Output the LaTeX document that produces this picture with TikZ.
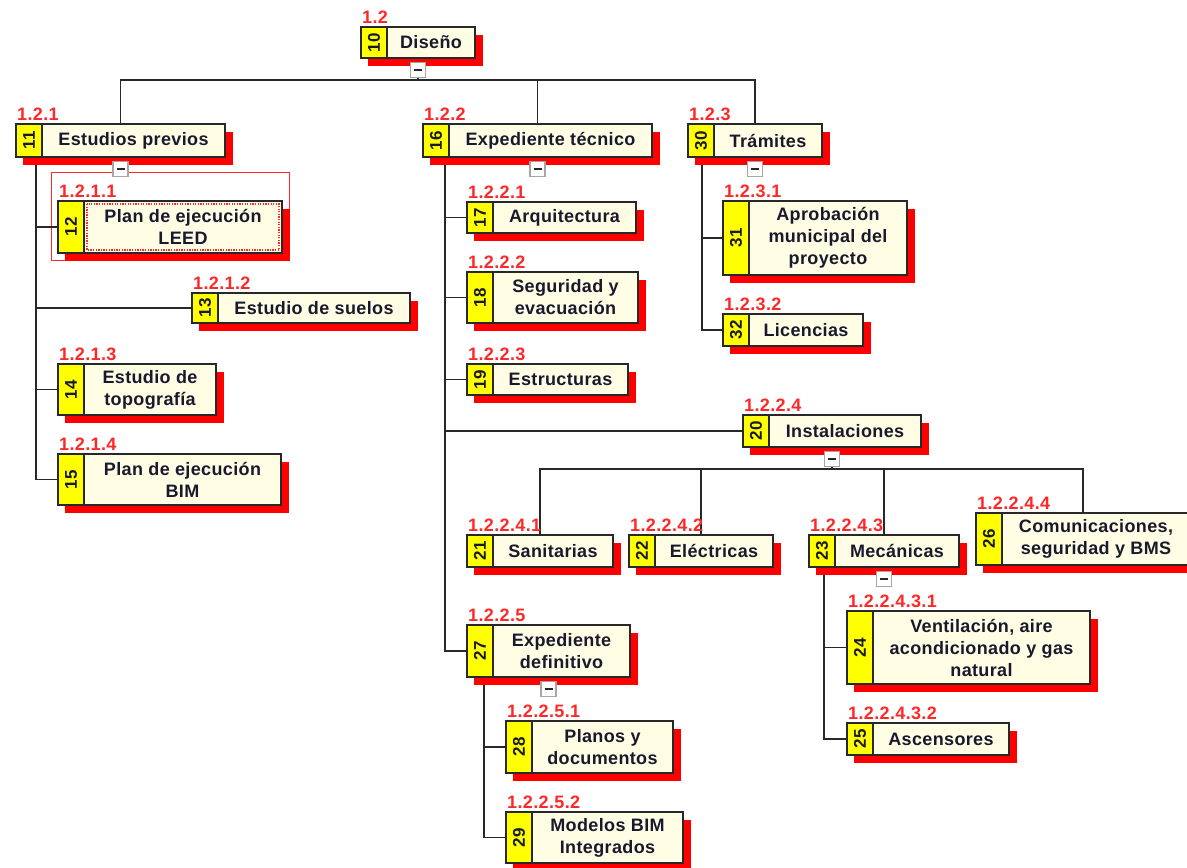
\documentclass[tikz,border=0pt]{standalone}
\usepackage{fontspec}
\usepackage{graphicx}
\newfontfamily\wbsfont{Liberation Sans}[LetterSpace=2]
\newfontfamily\wbsnumfont{Liberation Sans}[LetterSpace=2]
\usetikzlibrary{calc}
\definecolor{wbsred}{RGB}{255,0,0}
\definecolor{codered}{RGB}{255,40,40}
\definecolor{wbscream}{RGB}{255,253,228}
\definecolor{wbsyellow}{RGB}{255,255,0}
\definecolor{edgecol}{RGB}{40,40,40}
\definecolor{txtcol}{RGB}{25,25,45}
\pgfdeclarelayer{background}
\pgfsetlayers{background,main}
\tikzset{
  numbox/.style={draw=edgecol, line width=1.4pt, fill=wbsyellow, inner sep=0pt, outer sep=0pt,
    anchor=north west, text=txtcol, font=\wbsnumfont\bfseries\fontsize{17}{17}\selectfont},
  txtbox/.style={draw=edgecol, line width=1.4pt, fill=wbscream, inner sep=0pt, outer sep=0pt,
    anchor=north west, align=center, text=txtcol, font=\wbsfont\bfseries\fontsize{18}{22}\selectfont},
  codelbl/.style={text=codered, inner sep=0pt, anchor=base west,
    font=\wbsfont\bfseries\fontsize{18}{18}\selectfont},
  conn/.style={draw=edgecol, line width=1.4pt},
  minusbox/.style={draw=gray!70, fill=white, minimum size=15pt, inner sep=0pt, line width=1.2pt,
    path picture={\draw[line width=1.8pt, edgecol] ([xshift=-4pt]path picture bounding box.center) -- ([xshift=4pt]path picture bounding box.center);}},
  selrect/.style={draw=codered, line width=1pt},
  shadowbox/.style={fill=wbsred, draw=none}
}
% name, x1, y1, x2, y2, number, text, code
\newcommand\wbsitem[8]{%
  \pgfmathsetmacro\wbsW{#4-#2-26}%
  \pgfmathsetmacro\wbsH{#5-#3}%
  \fill[shadowbox] ({#2+7},{#3+8}) rectangle ({#4+8},{#5+8});
  \node[numbox, minimum width=26pt, minimum height=\wbsH pt] (#1n) at (#2,#3) {\rotatebox{90}{#6}};
  \node[txtbox, minimum width=\wbsW pt, minimum height=\wbsH pt] (#1) at ({#2+26},#3) {#7};
  \node[codelbl] (#1c) at ({#2+1},{#3-4}) {#8};
  \coordinate (#1top) at ({(#2+#4)/2},#3);
  \coordinate (#1bot) at ({(#2+#4)/2},#5);
  \coordinate (#1mb) at ({(#2+#4)/2},{#5+12});
}
\begin{document}
\begin{tikzpicture}[x=1pt,y=-1pt]
\useasboundingbox (0,0) rectangle (1187,868);
\clip (0,0) rectangle (1187,868);

\wbsitem{e10}{361}{27}{475}{58}{10}{Diseño}{1.2}
\wbsitem{e11}{16}{124}{225}{157}{11}{Estudios previos}{1.2.1}
\wbsitem{e12}{58}{201}{282}{253}{12}{Plan de ejecución\\LEED}{1.2.1.1}
\wbsitem{e13}{192}{293}{410}{323}{13}{Estudio de suelos}{1.2.1.2}
\wbsitem{e14}{58}{364}{216}{415}{14}{Estudio de\\topografía}{1.2.1.3}
\wbsitem{e15}{58}{454}{281}{505}{15}{Plan de ejecución\\BIM}{1.2.1.4}
\wbsitem{e16}{423}{124}{652}{157}{16}{Expediente técnico}{1.2.2}
\wbsitem{e17}{467}{202}{636}{233}{17}{Arquitectura}{1.2.2.1}
\wbsitem{e18}{467}{272}{638}{323}{18}{Seguridad y\\evacuación}{1.2.2.2}
\wbsitem{e19}{467}{364}{628}{395}{19}{Estructuras}{1.2.2.3}
\wbsitem{e20}{743}{415}{921}{447}{20}{Instalaciones}{1.2.2.4}
\wbsitem{e21}{467}{535}{613}{567}{21}{Sanitarias}{1.2.2.4.1}
\wbsitem{e22}{629}{535}{773}{567}{22}{Eléctricas}{1.2.2.4.2}
\wbsitem{e23}{809}{535}{959}{567}{23}{Mecánicas}{1.2.2.4.3}
\wbsitem{e24}{847}{611}{1090}{684}{24}{Ventilación, aire\\acondicionado y gas\\natural}{1.2.2.4.3.1}
\wbsitem{e25}{847}{723}{1009}{755}{25}{Ascensores}{1.2.2.4.3.2}
\wbsitem{e26}{976}{513}{1190}{565}{26}{Comunicaciones,\\seguridad y BMS}{1.2.2.4.4}
\wbsitem{e27}{467}{625}{630}{677}{27}{Expediente\\definitivo}{1.2.2.5}
\wbsitem{e28}{506}{721}{673}{773}{28}{Planos y\\documentos}{1.2.2.5.1}
\wbsitem{e29}{506}{812}{683}{863}{29}{Modelos BIM\\Integrados}{1.2.2.5.2}
\wbsitem{e30}{688}{124}{822}{157}{30}{Trámites}{1.2.3}
\wbsitem{e31}{723}{201}{907}{275}{31}{Aprobación\\municipal del\\proyecto}{1.2.3.1}
\wbsitem{e32}{723}{314}{863}{346}{32}{Licencias}{1.2.3.2}

% dotted focus frame inside item 12
\draw[codered, line width=1.3pt, dash pattern=on 1.3pt off 1.3pt] ([shift={(3,3)}]e12.north west) rectangle ([shift={(-3,-3)}]e12.south east);

% bus levels and hanging lines
\coordinate (bus1) at (0,80);
\coordinate (bus2) at (0,469);
\coordinate (h11) at (36,157);
\coordinate (h16) at (445,157);
\coordinate (h30) at (702,157);
\coordinate (h23) at (824,567);
\coordinate (h27) at (484,677);

\begin{pgfonlayer}{background}
  \draw[selrect] (51,172) rectangle (289,260);
  % level 1
  \draw[conn] (e10bot) -- (e10bot |- bus1);
  \draw[conn] (e11top) -- (e11top |- bus1) -- (e30top |- bus1) -- (e30top);
  \draw[conn] (e16top) -- (e16top |- bus1);
  % Estudios previos
  \draw[conn] (h11) |- (e15n.west);
  \draw[conn] (h11 |- e12n.west) -- (e12n.west);
  \draw[conn] (h11 |- e13n.west) -- (e13n.west);
  \draw[conn] (h11 |- e14n.west) -- (e14n.west);
  % Expediente tecnico
  \draw[conn] (h16) |- (e27n.west);
  \draw[conn] (h16 |- e17n.west) -- (e17n.west);
  \draw[conn] (h16 |- e18n.west) -- (e18n.west);
  \draw[conn] (h16 |- e19n.west) -- (e19n.west);
  \draw[conn] (h16 |- e20n.west) -- (e20n.west);
  % Tramites
  \draw[conn] (h30) |- (e32n.west);
  \draw[conn] (h30 |- e31n.west) -- (e31n.west);
  % Instalaciones
  \draw[conn] (e20bot) -- (e20bot |- bus2);
  \draw[conn] (e21top) -- (e21top |- bus2) -- (e26top |- bus2) -- (e26top);
  \draw[conn] (e22top) -- (e22top |- bus2);
  \draw[conn] (e23top) -- (e23top |- bus2);
  % Mecanicas
  \draw[conn] (h23) |- (e25n.west);
  \draw[conn] (h23 |- e24n.west) -- (e24n.west);
  % Expediente definitivo
  \draw[conn] (h27) |- (e29n.west);
  \draw[conn] (h27 |- e28n.west) -- (e28n.west);
\end{pgfonlayer}

% collapse boxes
\node[minusbox] (m10) at (e10mb) {};
\node[minusbox] (m11) at (e11mb) {};
\node[minusbox] (m16) at (e16mb) {};
\node[minusbox] (m30) at (e30mb) {};
\node[minusbox] (m20) at (e20mb) {};
\node[minusbox] (m23) at (e23mb) {};
\node[minusbox] (m27) at (e27mb) {};
\end{tikzpicture}
\end{document}
